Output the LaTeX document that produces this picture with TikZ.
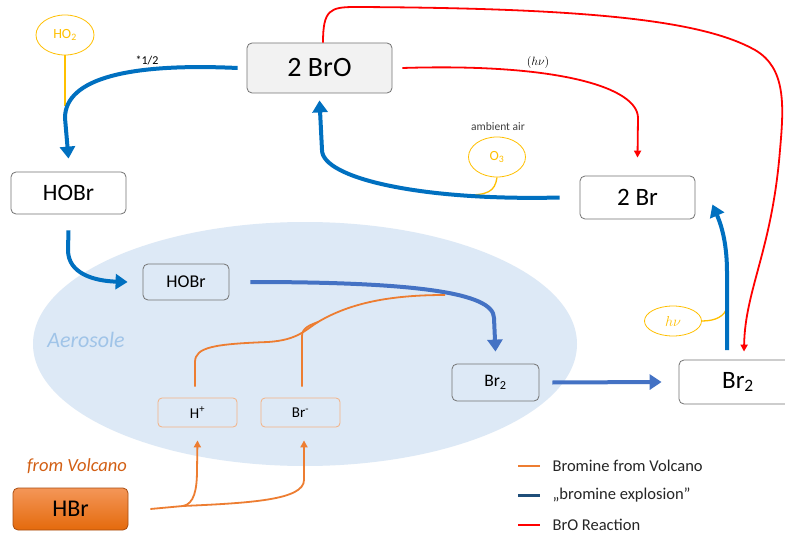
\documentclass[tikz,border=0pt]{standalone}
\usepackage{fontspec}
\setmainfont{Carlito}
\usetikzlibrary{arrows.meta, shapes.geometric}

\definecolor{cycleblue}{RGB}{0,112,192}
\definecolor{aeroblue}{RGB}{68,114,196}
\definecolor{legendnavy}{RGB}{31,78,121}
\definecolor{volcorange}{RGB}{237,125,49}
\definecolor{ionorange}{RGB}{244,177,131}
\definecolor{brored}{RGB}{255,0,0}
\definecolor{ozoneyellow}{RGB}{255,192,0}
\definecolor{aerofill}{RGB}{221,233,246}
\definecolor{aerotext}{RGB}{160,196,232}
\definecolor{boxgray}{RGB}{242,242,242}
\definecolor{hbrtop}{RGB}{244,150,88}
\definecolor{hbrbot}{RGB}{228,106,12}
\definecolor{volctext}{RGB}{210,95,20}

\tikzset{
  species/.style={draw=black!55, rounded corners=5pt, inner sep=0pt, line width=0.8pt},
  ion/.style={draw=ionorange, rounded corners=4pt, inner sep=0pt, line width=0.8pt,
    minimum width=79pt, minimum height=29pt, font=\fontsize{15}{17}\selectfont},
  catalyst/.style={ellipse, draw=ozoneyellow, inner sep=0pt, line width=0.8pt, text=ozoneyellow},
  bigarrow/.style={cycleblue, line width=4pt, -{Triangle[length=12pt,width=15pt]}},
  aeroarrow/.style={aeroblue, line width=4pt, -{Triangle[length=12pt,width=15pt]}},
  redarrow/.style={brored, line width=1.8pt, -{Triangle[length=7pt,width=7pt]}},
  orangearrow/.style={volcorange, line width=1.8pt, -{Triangle[length=7pt,width=7pt]}},
  yellowline/.style={ozoneyellow, line width=1.3pt},
  legendtext/.style={anchor=west, font=\fontsize{16.5}{19}\selectfont, text=black!85}
}

\begin{document}
\begin{tikzpicture}[x=1pt,y=-1pt]
\useasboundingbox (0,0) rectangle (785,535);
\fill [white] (0,0) rectangle (785,535);

% aerosol droplet
\fill [aerofill] (305,344) ellipse [x radius=272, y radius=122];
\node (aerolabel) at (86,340) [font=\fontsize{22}{24}\selectfont\itshape, text=aerotext] {Aerosole};

% species boxes
\node (bro) at (319.5,68) [species, fill=boxgray, minimum width=145pt, minimum height=50pt, font=\fontsize{28}{32}\selectfont] {2 BrO};
\node (hobrgas) at (68.5,193) [species, fill=white, minimum width=115pt, minimum height=42pt, font=\fontsize{23.5}{26}\selectfont] {HOBr};
\node (twobr) at (637.5,197.5) [species, fill=white, minimum width=115pt, minimum height=43pt, font=\fontsize{25}{28}\selectfont] {2 Br};
\node (brgas) at (738,382) [species, fill=white, minimum width=118pt, minimum height=44pt, font=\fontsize{25}{28}\selectfont] {Br\textsubscript{2}};
\node (hobraq) at (186,282) [species, fill=aerofill, minimum width=86pt, minimum height=36pt, font=\fontsize{18}{20}\selectfont] {HOBr};
\node (braq) at (495.5,382.5) [species, fill=aerofill, minimum width=87pt, minimum height=37pt, font=\fontsize{17.5}{20}\selectfont] {Br\textsubscript{2}};
\node (hplus) at (197.5,412.5) [ion] {H\textsuperscript{+}};
\node (brminus) at (300.5,412.5) [ion] {Br\textsuperscript{-}};
\node (hbr) at (70.5,509) [species, draw=volctext!80!black, top color=hbrtop, bottom color=hbrbot, minimum width=115pt, minimum height=42pt, font=\fontsize{24}{28}\selectfont] {HBr};
\node (volcano) at (77,466) [font=\fontsize{18.5}{21}\selectfont\itshape, text=volctext] {from Volcano};

% catalysts
\node (ho2) at (65,35) [catalyst, minimum width=58pt, minimum height=40pt, font=\fontsize{14}{16}\selectfont] {HO\textsubscript{2}};
\node (o3) at (497,157) [catalyst, minimum width=57pt, minimum height=40pt, font=\fontsize{14}{16}\selectfont] {O\textsubscript{3}};
\node (hv) at (673,321) [catalyst, minimum width=57pt, minimum height=30pt, font=\fontsize{14}{16}\selectfont] {$h\nu$};
\node (ambient) at (498,127) [font=\fontsize{11.5}{13}\selectfont, text=black!75] {ambient air};
\node (half) at (147,60) [font=\fontsize{12}{14}\selectfont] {*1/2};
\node (hvred) at (538,63) [font=\fontsize{11.5}{13}\selectfont] {$(h\nu)$};

% bromine explosion cycle
\coordinate (ho2join) at (65,106);
\coordinate (o3join) at (466,195);
\coordinate (hvjoin) at (727,307);
\draw [yellowline] (ho2.south) -- (ho2join);
\draw [yellowline] (o3.south) .. controls (495,192) and (487,195) .. (o3join);
\draw [yellowline] (hv.east) .. controls (716,321) and (725,316) .. (hvjoin);
\draw [bigarrow] ([xshift=-9pt]bro.west) .. controls (130,63) and (65,78) .. (65,118) -- ([yshift=13pt]hobrgas.north);
\draw [bigarrow] ([yshift=-16pt]hobrgas.south) -- (68,250) .. controls (68,274) and (95,281) .. ([xshift=-15pt]hobraq.west);
\draw [aeroarrow] ([xshift=21pt]hobraq.east) .. controls (410,282) and (494,292) .. (494,318) -- ([yshift=12pt]braq.north);
\draw [aeroarrow] ([xshift=13pt]braq.east) -- ([xshift=-17pt]brgas.west);
\draw [bigarrow] (727,350) -- (727,272) .. controls (727,240) and (720,222) .. ([xshift=17pt, yshift=-7pt]twobr.east);
\draw [bigarrow] ([xshift=-20pt]twobr.west) .. controls (420,201) and (322,178) .. (322,150) -- ([yshift=-7pt]bro.south);

% BrO reactions
\draw [redarrow] ([xshift=10pt]bro.east) .. controls (560,63) and (638,88) .. (638,118) -- ([yshift=18pt]twobr.north);
\draw [redarrow] ([xshift=3.5pt]bro.north) .. controls (323,10) and (330,7) .. (355,7)
  .. controls (600,8) and (705,22) .. (755,50)
  .. controls (786,68) and (784,105) .. (780,150)
  .. controls (772,250) and (745,290) .. ([xshift=6pt,yshift=8pt]brgas.north);

% bromine from the volcano
\coordinate (split) at (183,506);
\coordinate (merge) at (318,322);
\coordinate (uptake) at (445,295);
\draw [volcorange, line width=1.8pt] ([xshift=-2.5pt,yshift=11pt]hplus.north) -- (195,362) .. controls (195,347) and (215,344) .. (268,342)
  .. controls (298,340) and (305,330) .. (merge) .. controls (350,303) and (390,295) .. (uptake);
\draw [volcorange, line width=1.8pt] ([xshift=1.5pt,yshift=11pt]brminus.north) -- (302,336) .. controls (302,328) and (310,325) .. (merge);
\draw [volcorange, line width=1.8pt] ([xshift=22pt]hbr.east) -- (split);
\draw [orangearrow] (split) .. controls (194,504) and (197,490) .. (197,470) -- ([yshift=-13pt]hplus.south);
\draw [orangearrow] (split) .. controls (250,503) and (304,500) .. (304,480) -- ([xshift=3.5pt,yshift=-13pt]brminus.south);

% legend
\coordinate (legA) at (518,466);
\coordinate (legB) at (518,495);
\coordinate (legC) at (518,525);
\draw [volcorange, line width=2pt] (legA) -- ++(22,0);
\draw [legendnavy, line width=3pt] (legB) -- ++(22,0);
\draw [brored, line width=2pt] (legC) -- ++(22,0);
\node (legtextA) at (549,466) [legendtext] {Bromine from Volcano};
\node (legtextB) at (549,495) [legendtext] {„bromine explosion"};
\node (legtextC) at (549,525) [legendtext] {BrO Reaction};
\end{tikzpicture}
\end{document}
